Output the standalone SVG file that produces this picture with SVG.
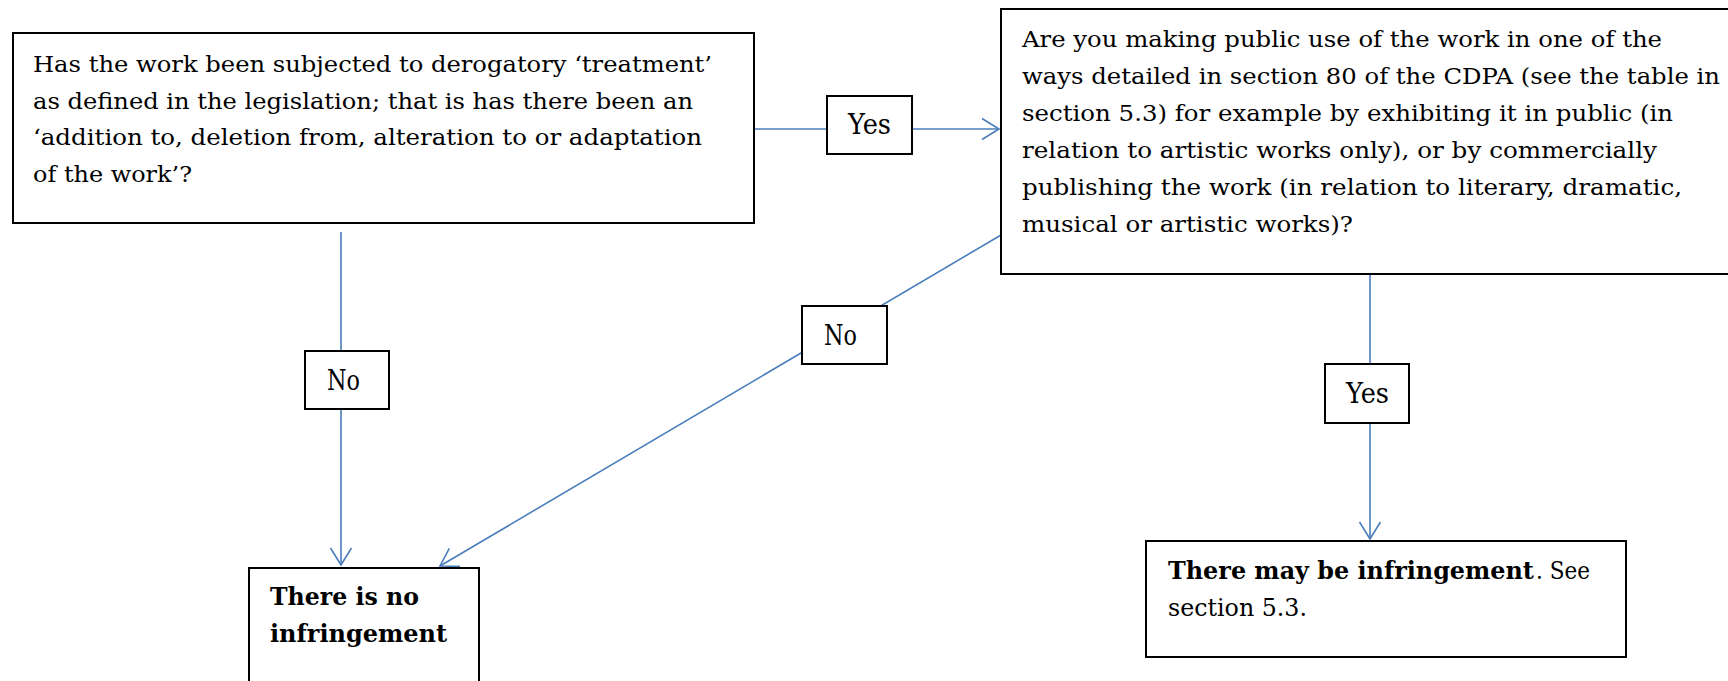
<svg xmlns="http://www.w3.org/2000/svg" width="1728" height="681" viewBox="0 0 1728 681">
<defs>
<style>
.box{fill:#fff;stroke:#000;stroke-width:2}
.lbl{fill:#fff;stroke:#000;stroke-width:2}
.t{font-family:"DejaVu Serif","Liberation Serif",serif;font-size:23px;fill:#000}
.tb{font-family:"DejaVu Serif","Liberation Serif",serif;font-size:25px;fill:#000}
.b{font-weight:bold}
.lt{font-family:"DejaVu Serif","Liberation Serif",serif;font-size:27px;fill:#000}
.con{fill:none;stroke:#4A7EBB;stroke-width:1.6}
</style>
<marker id="arr" markerUnits="userSpaceOnUse" viewBox="-20 -13 22 26" refX="0" refY="0" markerWidth="22" markerHeight="26" orient="auto">
<path d="M-17,-10.5 L0,0 L-17,10.5" fill="none" stroke="#4A7EBB" stroke-width="1.6"/>
</marker>
</defs>
<rect width="1728" height="681" fill="#fff"/>
<g id="connectors">
<line class="con" x1="754" y1="129" x2="999" y2="129" marker-end="url(#arr)"/>
<line class="con" x1="341" y1="232" x2="341" y2="565" marker-end="url(#arr)"/>
<line class="con" x1="1001" y1="235" x2="440" y2="566" marker-end="url(#arr)"/>
<line class="con" x1="1370" y1="274" x2="1370" y2="539" marker-end="url(#arr)"/>
</g>
<g id="q1">
<rect class="box" x="13" y="33" width="741" height="190"/>
<text class="t" x="33" y="72" textLength="679" lengthAdjust="spacingAndGlyphs">Has the work been subjected to derogatory ‘treatment’</text>
<text class="t" x="33" y="108.5" textLength="660" lengthAdjust="spacingAndGlyphs">as defined in the legislation; that is has there been an</text>
<text class="t" x="33" y="145" textLength="669" lengthAdjust="spacingAndGlyphs">‘addition to, deletion from, alteration to or adaptation</text>
<text class="t" x="33" y="181.5" textLength="159" lengthAdjust="spacingAndGlyphs">of the work’?</text>
</g>
<g id="q2">
<rect class="box" x="1001" y="9" width="740" height="265"/>
<text class="t" x="1022" y="46.5" textLength="640" lengthAdjust="spacingAndGlyphs">Are you making public use of the work in one of the</text>
<text class="t" x="1022" y="83.5" textLength="698" lengthAdjust="spacingAndGlyphs">ways detailed in section 80 of the CDPA (see the table in</text>
<text class="t" x="1022" y="120.5" textLength="651" lengthAdjust="spacingAndGlyphs">section 5.3) for example by exhibiting it in public (in</text>
<text class="t" x="1022" y="157.5" textLength="635" lengthAdjust="spacingAndGlyphs">relation to artistic works only), or by commercially</text>
<text class="t" x="1022" y="194.5" textLength="660" lengthAdjust="spacingAndGlyphs">publishing the work (in relation to literary, dramatic,</text>
<text class="t" x="1022" y="231.5" textLength="331" lengthAdjust="spacingAndGlyphs">musical or artistic works)?</text>
</g>
<g id="noInfringement">
<rect class="box" x="249" y="568" width="230" height="130"/>
<text class="tb b" x="270" y="605" textLength="149" lengthAdjust="spacingAndGlyphs">There is no</text>
<text class="tb b" x="270" y="642" textLength="177" lengthAdjust="spacingAndGlyphs">infringement</text>
</g>
<g id="mayInfringe">
<rect class="box" x="1146" y="541" width="480" height="116"/>
<text class="tb b" x="0" y="0" transform="matrix(0.955 0 0 1 1168 578.5)">There may be infringement</text>
<text class="tb" x="1536" y="578.5" textLength="54" lengthAdjust="spacingAndGlyphs">. See</text>
<text class="tb" x="1168" y="616" textLength="139" lengthAdjust="spacingAndGlyphs">section 5.3.</text>
</g>
<g id="yes1">
<rect class="lbl" x="827" y="96" width="85" height="58"/>
<text class="lt" x="848" y="134" textLength="43" lengthAdjust="spacingAndGlyphs">Yes</text>
</g>
<g id="no1">
<rect class="lbl" x="305" y="351" width="84" height="58"/>
<text class="lt" x="327" y="390" textLength="33" lengthAdjust="spacingAndGlyphs">No</text>
</g>
<g id="no2">
<rect class="lbl" x="802" y="306" width="85" height="58"/>
<text class="lt" x="824" y="345" textLength="33" lengthAdjust="spacingAndGlyphs">No</text>
</g>
<g id="yes2">
<rect class="lbl" x="1325" y="364" width="84" height="59"/>
<text class="lt" x="1346" y="403" textLength="43" lengthAdjust="spacingAndGlyphs">Yes</text>
</g>
</svg>
